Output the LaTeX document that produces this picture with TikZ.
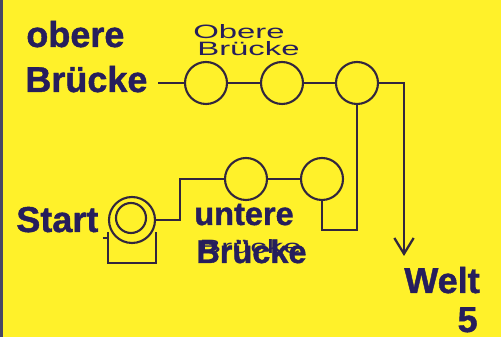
\documentclass[tikz,border=0pt]{standalone}
\usepackage{fontspec}
\setmainfont{Liberation Sans}[BoldFeatures={FakeBold=1.2}]
\newfontfamily\handfont[FakeStretch=1.7]{Liberation Sans}
\usetikzlibrary{arrows.meta, positioning, calc}
\definecolor{bgYellow}{RGB}{255,241,42}
\definecolor{inkNavy}{RGB}{38,30,92}
\definecolor{lineDark}{RGB}{50,38,62}
\definecolor{stripGray}{RGB}{72,70,100}

\begin{document}
\begin{tikzpicture}[
    x=0.02cm, y=-0.02cm,
    % Node styles
    title/.style={font=\fontsize{20.5}{22}\selectfont\bfseries, text=inkNavy, inner sep=0pt},
    subtitle/.style={font=\fontsize{18.5}{20}\selectfont\bfseries, text=inkNavy, inner sep=0pt},
    scribble/.style={font=\handfont\fontsize{11}{12}\selectfont, text=inkNavy, inner sep=0pt},
    stop/.style={circle, draw=lineDark, line width=1.2pt, minimum size=0.84cm, inner sep=0pt},
    wire/.style={draw=lineDark, line width=1.3pt},
    arrow/.style={wire, -{Straight Barb[length=9pt, width=11pt]}}
]

% Background
\useasboundingbox (0,0) rectangle (501,337);
\fill[bgYellow] (0,0) rectangle (501,337);
\fill[stripGray] (0,0) rectangle (3,337);

% Labels
\node[title, anchor=base west] (ob1) at (26,47) {obere};
\node[title, anchor=base west] (ob2) at (25,92) {Brücke};
\node[title, anchor=base west] (start) at (16,232) {Start};
\node[title, anchor=base west] (welt) at (404,293) {Welt};
\node[title, anchor=base east] (welt5) at (478,332) {5};
\node[subtitle, anchor=base west] (un1) at (194,225) {untere};
\node[subtitle, anchor=base west] (un2) at (196,263) {Brücke};

% Handwritten notes
\node[scribble, anchor=base west] (hw1) at (193,39) {Obere};
\node[scribble, anchor=base west] (hw2) at (197,56) {Brücke};
\node[scribble, anchor=base west] (hw3) at (199,254) {Brücke};

% Upper bridge
\node[stop] (o1) at (206,83) {};
\node[stop] (o2) at (282,83) {};
\node[stop] (o3) at (357,83) {};

% Lower bridge
\node[stop] (u1) at (246,179) {};
\node[stop] (u2) at (322,179) {};

% Start roller
\node[stop, minimum size=0.92cm] (st) at (132,220) {};
\node[stop, minimum size=0.6cm] (sti) at (131,218) {};

\coordinate (ziel) at (404,256);
\coordinate (knick) at (322,230);

% Wires
\draw[wire, shorten <=6pt] (ob2.east |- o1) -- (o1);
\draw[wire] (o1) -- (o2);
\draw[wire] (o2) -- (o3);
\draw[arrow] (o3.east) -| (ziel);
\draw[wire] (o3.south) |- (knick) -- (u2.south);
\draw[wire] (u1) -- (u2);
\draw[wire] (st.east) -- ++(24,0) |- (u1.west);
\draw[wire] ($(st.west)+(0,12)$) -- ++(0,31) -| ($(st.east)+(0,12)$);
\draw[wire] ($(st.west)+(-5,18)$) -- ++(5,0);

\end{tikzpicture}
\end{document}
